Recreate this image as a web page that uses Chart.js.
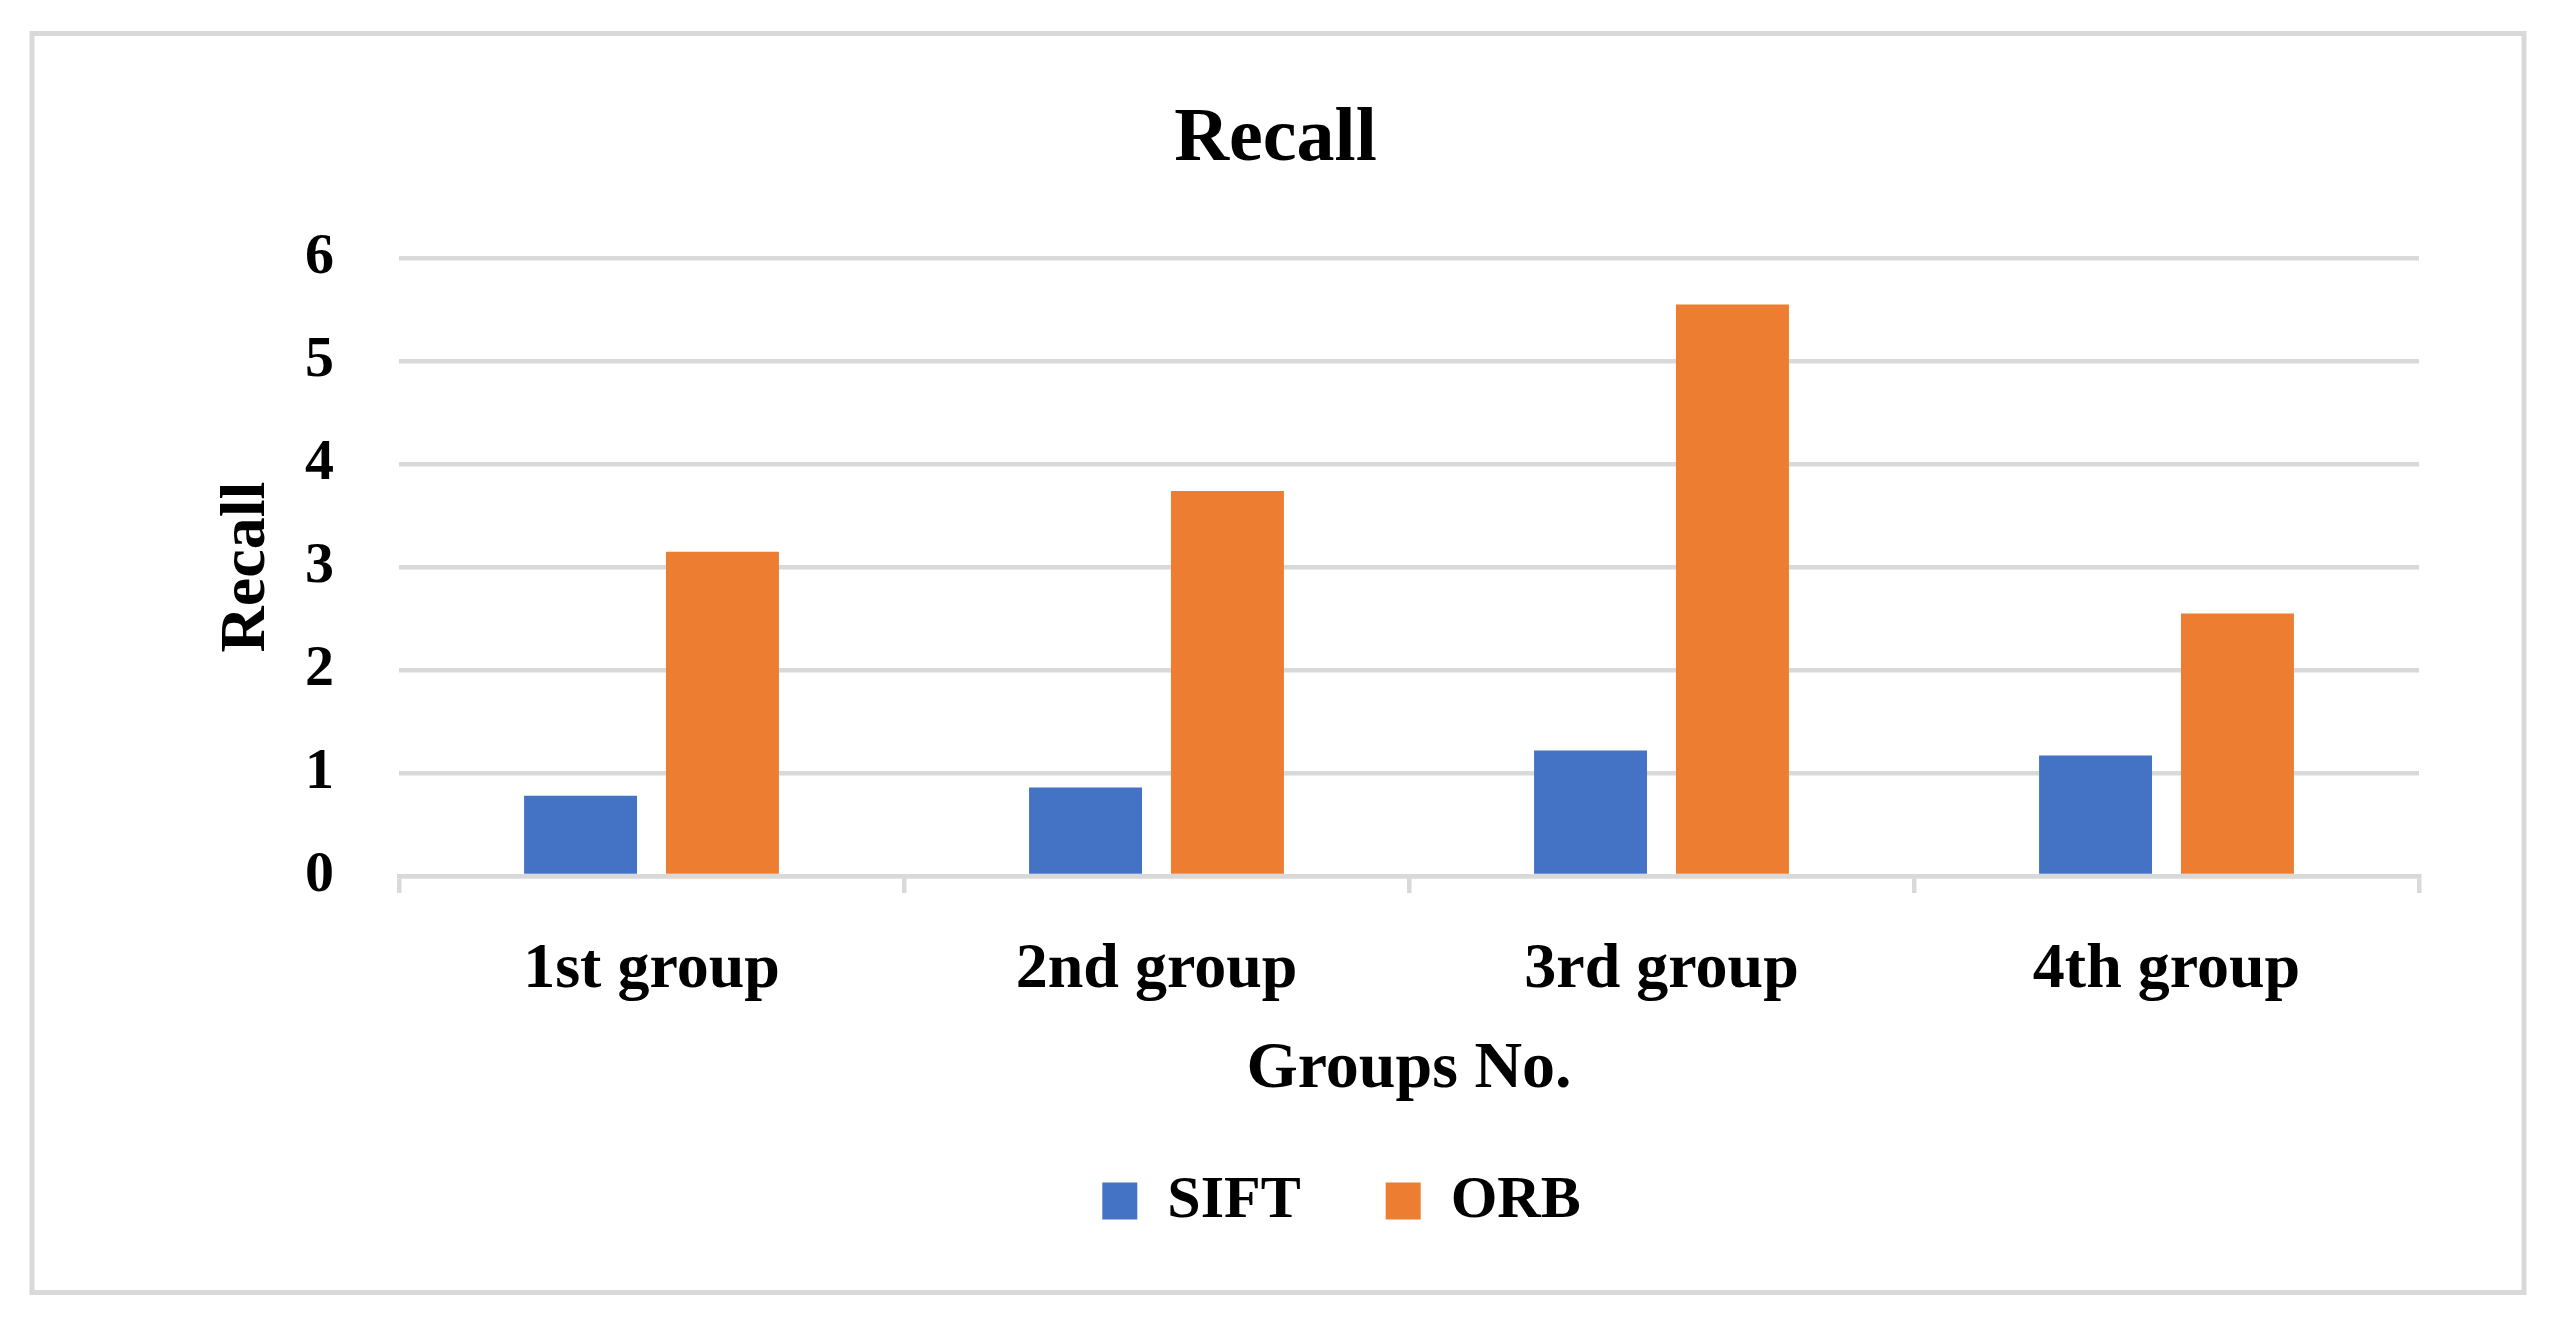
<!DOCTYPE html>
<html>
<head>
<meta charset="utf-8">
<script src="https://cdn.jsdelivr.net/npm/chart.js@4.4.1/dist/chart.umd.min.js"></script>
<style>
    html, body { margin: 0; padding: 0; background: #ffffff; }
    #wrap { position: relative; width: 2551px; height: 1318px; }
</style>
</head>
<body>
<div id="wrap"><canvas id="chart"></canvas></div>
<script>
// data
const groups = ['1st group', '2nd group', '3rd group', '4th group'];
const siftValues = [0.78, 0.86, 1.22, 1.17];
const orbValues = [3.15, 3.74, 5.55, 2.55];
const yTicks = [0, 1, 2, 3, 4, 5, 6];

const gridGray = '#d9d9d9';
const serif = "'Liberation Serif', 'Times New Roman', serif";

// outer frame + white background
const framePlugin = {
    id: 'frame',
    beforeDraw(chart) {
        const ctx = chart.ctx;
        ctx.save();
        ctx.fillStyle = '#ffffff';
        ctx.fillRect(0, 0, chart.width, chart.height);
        ctx.strokeStyle = gridGray;
        ctx.lineWidth = 5;
        ctx.strokeRect(32, 33.5, 2492, 1259);
        ctx.restore();
    },
    // legend in the original sits a bit right of the page centre
    afterLayout(chart) {
        if (chart.legend) {
            chart.legend.left += 132;
        }
    }
};

const ctx = document.getElementById('chart').getContext('2d');
new Chart(ctx, {
    type: 'bar',
    data: {
        labels: groups,
        datasets: [
            {
                label: 'SIFT',
                data: siftValues,
                backgroundColor: '#4472c4',
                borderWidth: 0,
                categoryPercentage: 0.562,
                barPercentage: 0.796
            },
            {
                label: 'ORB',
                data: orbValues,
                backgroundColor: '#ed7d31',
                borderWidth: 0,
                categoryPercentage: 0.562,
                barPercentage: 0.796
            }
        ]
    },
    options: {
        responsive: true,
        maintainAspectRatio: false,
        animation: false,
        devicePixelRatio: 1,
        layout: { padding: { left: 0, right: 0, top: 0, bottom: 77 } },
        plugins: {
            title: {
                display: true,
                text: 'Recall',
                color: '#000000',
                font: { family: serif, size: 76, weight: 'bold' },
                padding: { top: 95, bottom: 72 }
            },
            legend: {
                position: 'bottom',
                labels: {
                    color: '#000000',
                    font: { family: serif, size: 60, weight: 'bold' },
                    boxWidth: 35,
                    boxHeight: 37,
                    padding: 85
                }
            },
            tooltip: { enabled: false }
        },
        scales: {
            x: {
                offset: true,
                grid: {
                    display: true,
                    offset: true,
                    drawOnChartArea: false,
                    drawTicks: true,
                    tickLength: 17,
                    color: gridGray,
                    lineWidth: 4.5
                },
                border: { display: true, color: gridGray, width: 4.5 },
                ticks: {
                    color: '#000000',
                    font: { family: serif, size: 64, weight: 'bold' },
                    padding: 39,
                    maxRotation: 0
                },
                title: {
                    display: true,
                    text: 'Groups No.',
                    color: '#000000',
                    font: { family: serif, size: 66, weight: 'bold', lineHeight: 0.5 },
                    padding: 0
                },
                afterFit(scale) { scale.height = 210; }
            },
            y: {
                min: 0,
                max: 6,
                afterBuildTicks(scale) {
                    scale.ticks = yTicks.map(v => ({ value: v }));
                },
                grid: {
                    color: gridGray,
                    lineWidth: 4.5,
                    drawTicks: false
                },
                border: { display: false },
                ticks: {
                    color: '#000000',
                    font: { family: serif, size: 58, weight: 'bold' },
                    padding: 65
                },
                title: {
                    display: true,
                    text: 'Recall',
                    color: '#000000',
                    font: { family: serif, size: 64, weight: 'bold' },
                    padding: { top: 209, bottom: 0 }
                },
                afterFit(scale) { scale.width = 399; }
            },
            // blank right-hand axis that only reserves the empty strip
            yRight: {
                position: 'right',
                display: true,
                grid: { display: false },
                border: { display: false },
                ticks: { display: false },
                afterFit(scale) { scale.width = 132; }
            }
        }
    },
    plugins: [framePlugin]
});
</script>
</body>
</html>
